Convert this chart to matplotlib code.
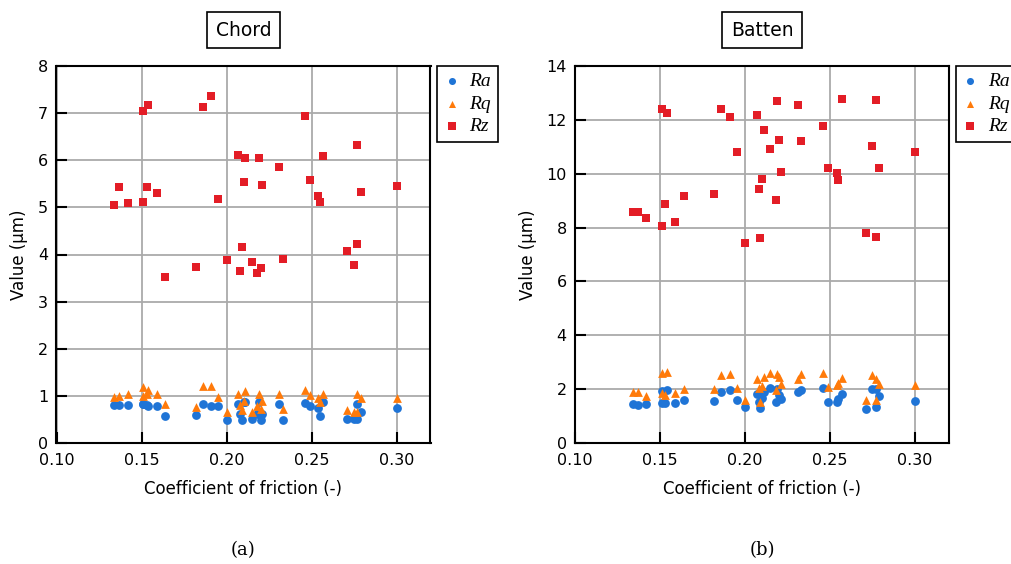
import matplotlib
matplotlib.use("Agg")
import matplotlib.pyplot as plt
import numpy as np

# coefficient of friction (shared by both panels)
friction = [0.134, 0.137, 0.142, 0.151, 0.151, 0.153, 0.154, 0.159, 0.164, 0.182,
            0.186, 0.191, 0.195, 0.200, 0.207, 0.208, 0.209, 0.210, 0.211, 0.215,
            0.218, 0.219, 0.220, 0.221, 0.231, 0.233, 0.246, 0.249, 0.254, 0.255,
            0.257, 0.271, 0.275, 0.277, 0.277, 0.279, 0.300]

chord_ra = [0.81, 0.80, 0.80, 0.83, 0.82, 0.80, 0.79, 0.78, 0.58, 0.59,
            0.82, 0.79, 0.79, 0.48, 0.82, 0.61, 0.49, 0.86, 0.87, 0.51,
            0.62, 0.88, 0.49, 0.61, 0.82, 0.48, 0.85, 0.79, 0.75, 0.58,
            0.87, 0.50, 0.50, 0.82, 0.51, 0.65, 0.75]
chord_rq = [0.98, 1.00, 1.05, 1.18, 1.00, 1.04, 1.12, 1.03, 0.82, 0.77,
            1.20, 1.21, 0.98, 0.66, 1.05, 0.81, 0.70, 0.89, 1.10, 0.66,
            0.78, 1.05, 0.72, 0.89, 1.03, 0.72, 1.12, 1.02, 0.96, 0.87,
            1.03, 0.70, 0.66, 1.03, 0.65, 0.96, 0.95]
chord_rz = [5.06, 5.44, 5.10, 7.04, 5.12, 5.44, 7.18, 5.31, 3.53, 3.74,
            7.14, 7.37, 5.17, 3.89, 6.11, 3.65, 4.15, 5.54, 6.04, 3.84,
            3.60, 6.04, 3.71, 5.47, 5.85, 3.91, 6.94, 5.59, 5.24, 5.11,
            6.10, 4.07, 3.77, 6.33, 4.22, 5.32, 5.45]

batten_ra = [1.46, 1.40, 1.44, 1.93, 1.48, 1.49, 1.98, 1.50, 1.58, 1.56,
             1.91, 1.96, 1.60, 1.35, 1.81, 1.54, 1.30, 1.68, 1.90, 2.06,
             1.54, 2.02, 1.80, 1.65, 1.91, 1.98, 2.04, 1.53, 1.53, 1.65,
             1.83, 1.25, 2.00, 2.00, 1.33, 1.73, 1.56]
batten_rq = [1.91, 1.90, 1.74, 2.59, 1.86, 1.80, 2.64, 1.84, 1.99, 2.01,
             2.53, 2.55, 2.06, 1.60, 2.39, 2.03, 1.54, 2.11, 2.46, 2.59,
             1.98, 2.58, 2.45, 2.20, 2.39, 2.55, 2.61, 2.08, 2.14, 2.21,
             2.41, 1.60, 2.51, 2.38, 1.58, 2.20, 2.14]
batten_rz = [8.56, 8.59, 8.35, 12.42, 8.07, 8.86, 12.27, 8.22, 9.18, 9.26,
             12.42, 12.11, 10.80, 7.41, 12.19, 9.42, 7.60, 9.79, 11.64, 10.90,
             9.01, 12.70, 11.26, 10.08, 12.57, 11.23, 11.78, 10.23, 10.01, 9.78,
             12.79, 7.79, 11.02, 12.72, 7.65, 10.23, 10.80]

panels = [
    ("Chord", "(a)", chord_ra, chord_rq, chord_rz, 8, np.arange(0, 9, 1)),
    ("Batten", "(b)", batten_ra, batten_rq, batten_rz, 14, np.arange(0, 15, 2)),
]

colors = {"Ra": "#1f74d6", "Rq": "#ff7a0a", "Rz": "#e31d26"}
markers = {"Ra": "o", "Rq": "^", "Rz": "s"}

W, H = 1012, 564
fig = plt.figure(figsize=(W / 100, H / 100), dpi=100)

lefts = [56.5, 575]
ax_w = 374
ax_top, ax_bot = 66, 443

for (title, tag, ra, rq, rz, ymax, yticks), lpx in zip(panels, lefts):
    ax = fig.add_axes([lpx / W, 1 - ax_bot / H, ax_w / W, (ax_bot - ax_top) / H])
    for name, vals in (("Ra", ra), ("Rq", rq), ("Rz", rz)):
        ax.scatter(friction, vals, s=40, marker=markers[name], c=colors[name],
                   linewidths=0, label=name, zorder=3)
    ax.set_xlim(0.10, 0.32)
    ax.set_ylim(0, ymax)
    ax.set_xticks([0.10, 0.15, 0.20, 0.25, 0.30])
    ax.set_xticklabels(["0.10", "0.15", "0.20", "0.25", "0.30"])
    ax.set_yticks(yticks)
    ax.grid(True, color="#aaaaaa", linewidth=1.3, zorder=0)
    ax.set_axisbelow(True)
    for sp in ax.spines.values():
        sp.set_linewidth(1.5)
    ax.tick_params(direction="in", length=8, width=1.5, labelsize=11.5,
                   top=False, right=False)
    ax.tick_params(axis="x", pad=7)
    ax.tick_params(axis="y", pad=6)
    ax.set_xlabel("Coefficient of friction (-)", fontsize=12, labelpad=9)
    ax.set_ylabel("Value (µm)", fontsize=12, labelpad=7)

    leg = ax.legend(loc="upper left", bbox_to_anchor=(1.018, 1.0), borderaxespad=0,
                    fancybox=False, edgecolor="black", framealpha=1,
                    prop={"family": "Liberation Serif", "style": "italic", "size": 14},
                    handlelength=0.8, handletextpad=0.5, borderpad=0.35,
                    labelspacing=0.25, scatterpoints=1, markerscale=0.8)
    leg.get_frame().set_linewidth(1.2)

    cx = (lpx + ax_w / 2) / W
    fig.text(cx, 1 - 30 / H, title, ha="center", va="center", fontsize=13.5,
             bbox=dict(boxstyle="square,pad=0.45", fc="white", ec="black", lw=1.2))
    fig.text(cx, 1 - 550 / H, tag, ha="center", va="center", fontsize=13,
             family="DejaVu Serif")

plt.savefig("out.png", dpi=100)
